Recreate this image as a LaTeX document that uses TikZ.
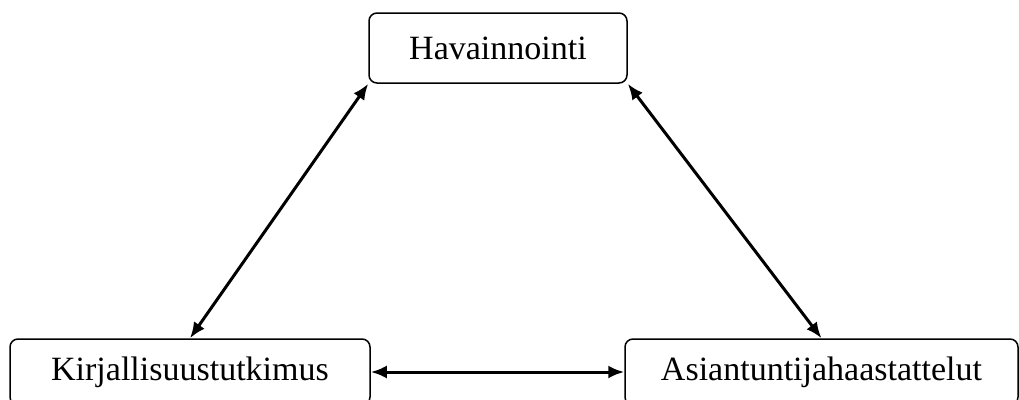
\documentclass[tikz,border=0pt]{standalone}
\usepackage{fontspec}
\setmainfont{Liberation Serif}
\usetikzlibrary{arrows.meta}
\begin{document}
\begin{tikzpicture}[
		x=1pt,
		y=-1pt,
		mybox/.style={
				draw=black,
				line width=1.5pt,
				shape=rectangle,
				rounded corners=8pt,
				font=\fontsize{34}{40}\selectfont,
				inner sep=0pt
			},
		myarrow/.style={
				{Latex[length=16pt,width=13pt]}-{Latex[length=16pt,width=13pt]},
				line width=3pt
			},
	]
	\useasboundingbox (0, 0) rectangle (1019, 399);
	\clip (0, 0) rectangle (1019, 399);
	\node [mybox, minimum width=258, minimum height=70] (1) at (498, 48) {Havainnointi};
	\node [mybox, minimum width=360, minimum height=66] (2) at (190, 372) {Kirjallisuustutkimus};
	\node [mybox, minimum width=393, minimum height=66] (3) at (821.5, 372) {Asiantuntijahaastattelut};
	\draw [myarrow] (1.south west) -- (2.north);
	\draw [myarrow] (1.south east) -- (3.north);
	\draw [myarrow] (2) -- (3);
\end{tikzpicture}
\end{document}
